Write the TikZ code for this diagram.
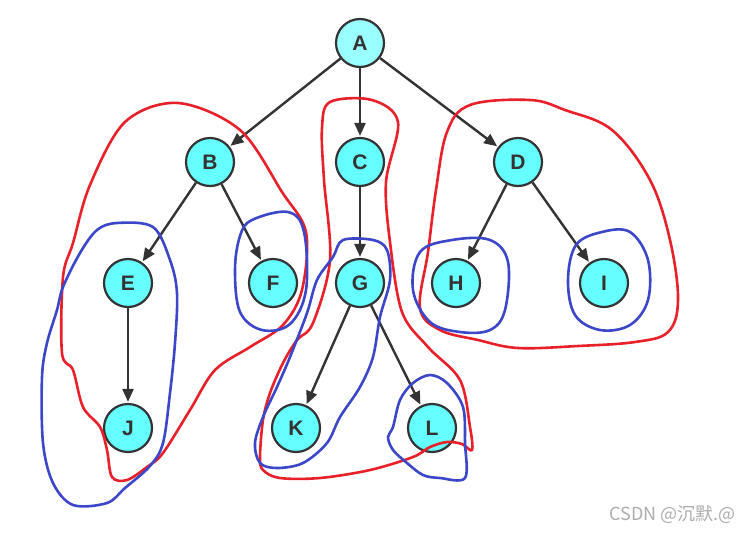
\documentclass[tikz,border=0pt]{standalone}
\usepackage{fontspec}
\setmainfont{Liberation Sans}
\newfontfamily\cjk{Noto Sans CJK SC}
\usetikzlibrary{arrows.meta}
\definecolor{nodefill}{HTML}{66FFFF}
\definecolor{rootfill}{HTML}{99FFFF}
\definecolor{edgegray}{HTML}{333333}
\definecolor{penred}{HTML}{E8202A}
\definecolor{penblue}{HTML}{3C46C8}
\tikzset{
  vertex/.style={circle, draw=edgegray, line width=2.2pt, fill=nodefill,
    minimum size=48pt, inner sep=0pt, font=\fontsize{21}{25}\selectfont\bfseries, text=edgegray},
  arc/.style={-{Triangle[length=13pt,width=11pt]}, draw=edgegray, line width=2.4pt, shorten >=1pt},
  redloop/.style={penred, line width=2.6pt},
  blueloop/.style={penblue, line width=2.6pt}
}
\begin{document}
\begin{tikzpicture}[x=1pt, y=-1pt]
  \useasboundingbox (0,0) rectangle (751,533);
  % nodes
  \node[vertex, fill=rootfill] (A) at (360,43) {A};
  \node[vertex] (B) at (210,162) {B};
  \node[vertex] (C) at (360,162) {C};
  \node[vertex] (D) at (518,162) {D};
  \node[vertex] (E) at (128,283) {E};
  \node[vertex] (F) at (273,283) {F};
  \node[vertex] (G) at (360,283) {G};
  \node[vertex] (H) at (456,283) {H};
  \node[vertex] (I) at (604,283) {I};
  \node[vertex] (J) at (128,428) {J};
  \node[vertex] (K) at (296,428) {K};
  \node[vertex] (L) at (432,428) {L};
  % edges
  \foreach \from/\to in {A/B, A/C, A/D, B/E, B/F, C/G, D/H, D/I, E/J, G/K, G/L}
    \draw[arc] (\from) -- (\to);
  % red loops
  \draw[redloop] plot[smooth cycle, tension=0.55] coordinates {
    (178,103) (240,130) (282,192) (306,232) (302,290) (283,325) (250,347)
    (215,370) (190,410) (163,453) (147,467) (127,480) (112,477) (107,450)
    (100,427) (83,407) (73,370) (62,353) (63,277) (73,243) (90,185) (125,122)};
  \draw[redloop] plot[smooth cycle, tension=0.55] coordinates {
    (330,102) (372,100) (398,122) (386,182) (390,242) (402,312) (428,347)
    (460,380) (470,427) (472,450) (462,444) (447,442) (430,447) (413,457)
    (370,470) (320,478) (280,478) (263,470) (260,457) (263,420) (270,393)
    (283,363) (297,340) (313,323) (330,260) (324,180) (322,128)};
  \draw[redloop] plot[smooth cycle, tension=0.6] coordinates {
    (470,105) (530,100) (565,110) (612,130) (650,180) (670,240) (678,300)
    (668,332) (635,342) (578,346) (518,348) (478,340) (440,330) (420,308)
    (428,252) (436,190) (447,132)};
  % blue loops
  \draw[blueloop] plot[smooth cycle, tension=0.55] coordinates {
    (117,223) (153,227) (170,260) (177,293) (175,343) (170,393) (163,443)
    (150,466) (125,488) (107,503) (73,505) (53,483) (43,443) (42,377)
    (47,343) (57,310) (63,287) (80,253) (97,230)};
  \draw[blueloop] plot[smooth cycle, tension=0.6] coordinates {
    (252,220) (288,212) (304,232) (306,290) (290,324) (262,330) (240,312)
    (235,270) (240,236)};
  \draw[blueloop] plot[smooth cycle, tension=0.55] coordinates {
    (343,240) (373,240) (387,250) (390,280) (380,317) (373,357) (360,387)
    (340,417) (327,443) (303,463) (277,468) (260,463) (255,443) (263,417)
    (277,387) (290,357) (307,313) (317,280) (333,257)};
  \draw[blueloop] plot[smooth cycle, tension=0.55] coordinates {
    (430,375) (447,383) (463,407) (465,443) (465,478) (440,478) (423,475)
    (407,463) (393,450) (388,437) (393,427) (400,400) (413,383)};
  \draw[blueloop] plot[smooth cycle, tension=0.6] coordinates {
    (420,252) (452,240) (490,240) (508,262) (505,310) (490,330) (460,332)
    (430,322) (413,290)};
  \draw[blueloop] plot[smooth cycle, tension=0.6] coordinates {
    (576,245) (602,232) (630,232) (648,260) (648,300) (630,325) (600,330)
    (575,315) (568,280)};
  % watermark
  \node[anchor=east, text=gray!65, font=\cjk\fontsize{18}{20}\selectfont, inner sep=0pt]
    (mark) at (736,514) {CSDN @沉默.@};
\end{tikzpicture}
\end{document}
